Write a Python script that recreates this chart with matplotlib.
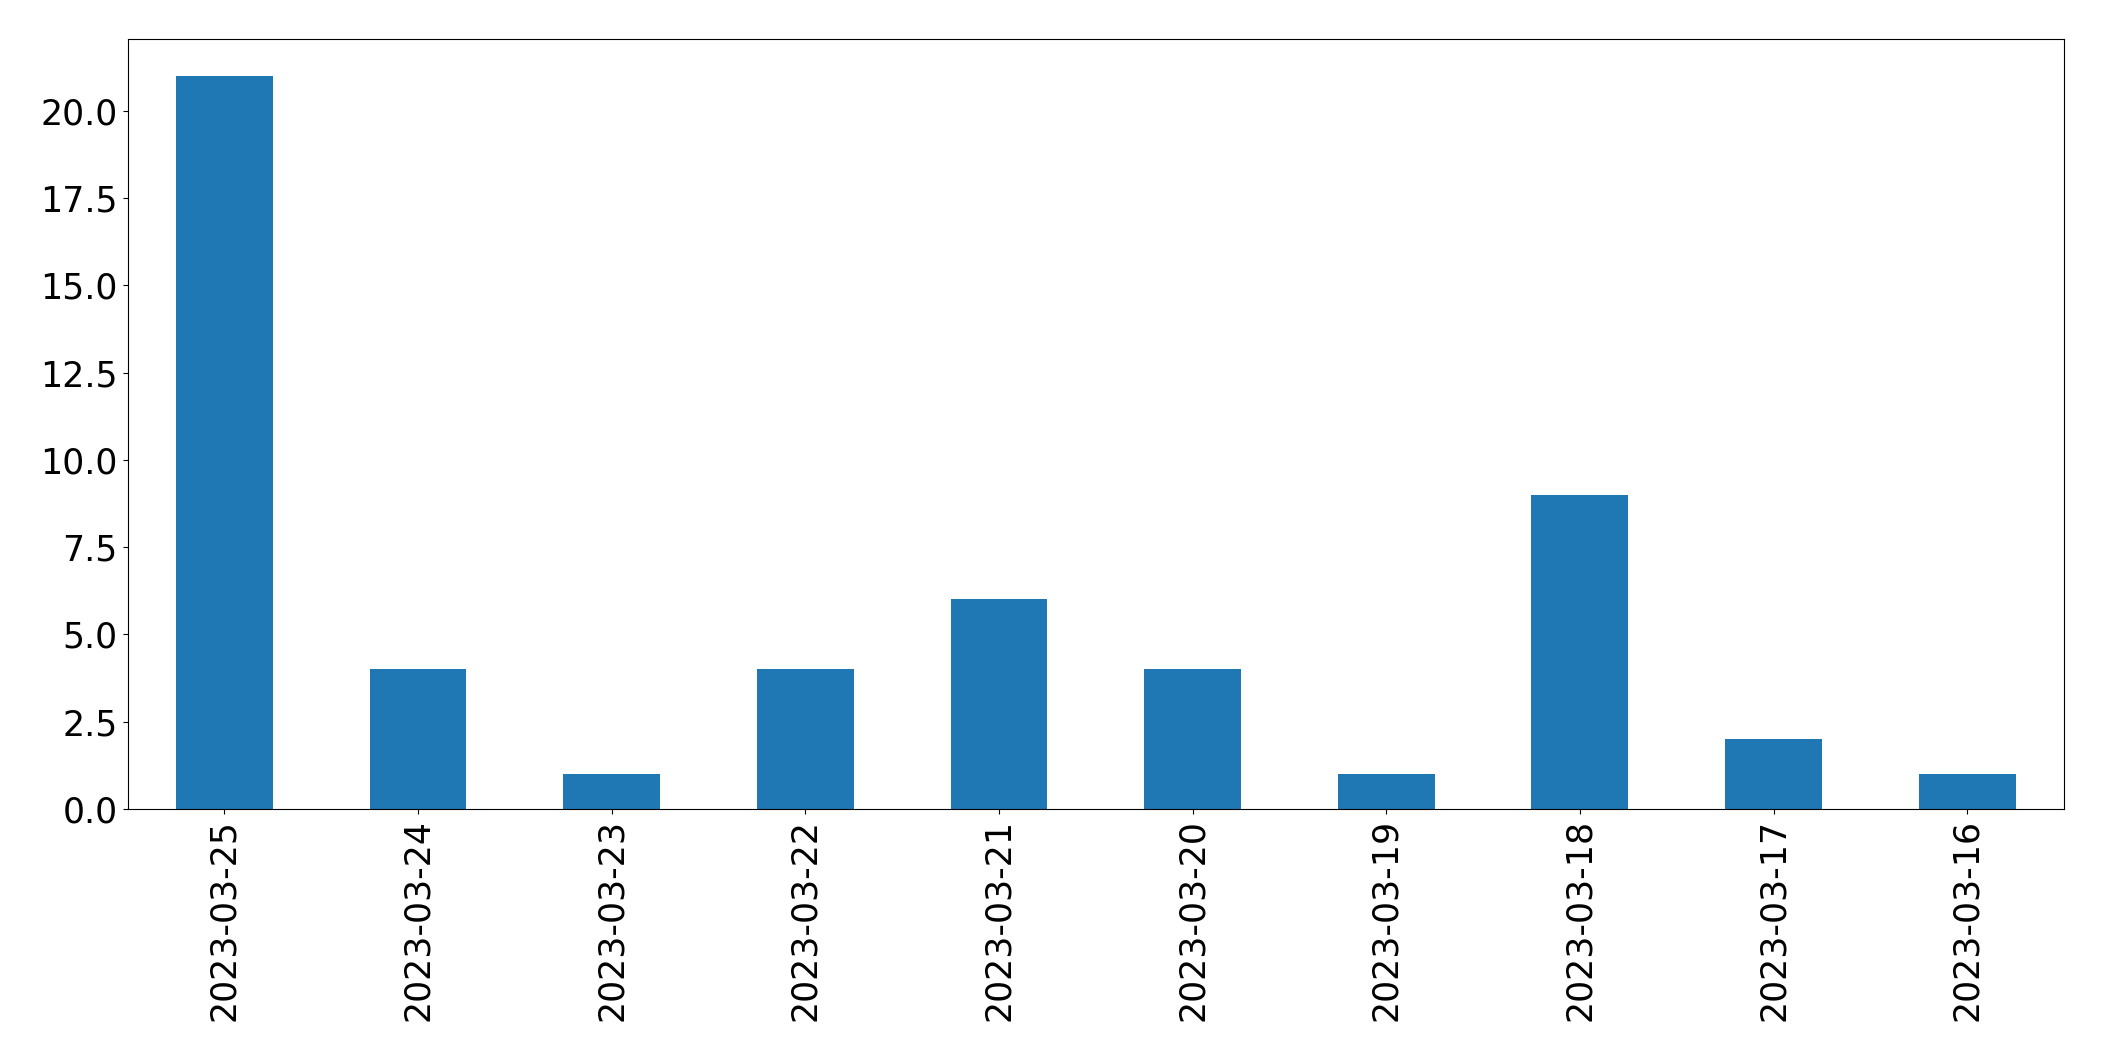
import matplotlib
matplotlib.use('Agg')
import matplotlib.pyplot as plt
import pandas as pd

# counts per day, newest first
dates = ['2023-03-25', '2023-03-24', '2023-03-23', '2023-03-22', '2023-03-21',
         '2023-03-20', '2023-03-19', '2023-03-18', '2023-03-17', '2023-03-16']
counts = [21, 4, 1, 4, 6, 4, 1, 9, 2, 1]

series = pd.Series(counts, index=dates)

fig, ax = plt.subplots(figsize=(21.04, 10.61), dpi=100)
series.plot(kind='bar', ax=ax, color='#1f77b4')
ax.tick_params(axis='both', labelsize=25)
fig.subplots_adjust(left=0.0606, right=0.981, top=0.9632, bottom=0.2375)
fig.savefig('out.png', dpi=100)
